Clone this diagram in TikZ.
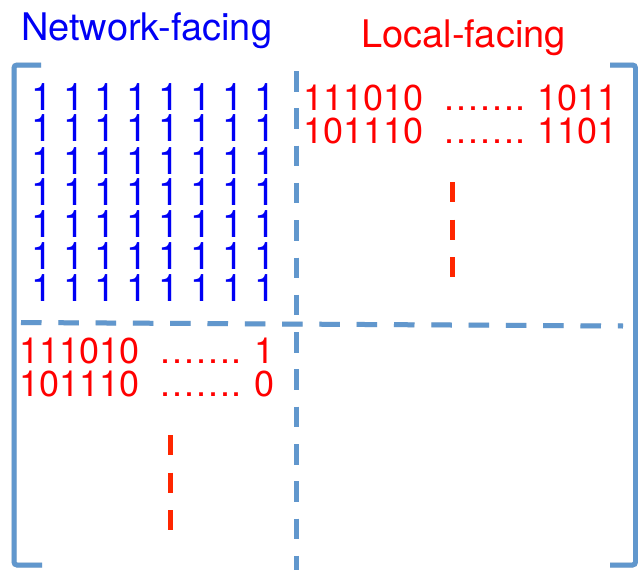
\documentclass[tikz,border=0pt]{standalone}
\usepackage{fontspec}
\setmainfont{TeX Gyre Heros}
\definecolor{rulecol}{RGB}{97,151,205}
\definecolor{netblue}{RGB}{0,0,245}
\definecolor{localred}{RGB}{255,0,0}
\definecolor{tickred}{RGB}{255,38,0}
% one row of eight ones, on a 31.9pt pitch
\newcommand{\onesrowbox}{\hbox{\makebox[31.9pt][l]{1}\makebox[31.9pt][l]{1}\makebox[31.9pt][l]{1}\makebox[31.9pt][l]{1}\makebox[31.9pt][l]{1}\makebox[31.9pt][l]{1}\makebox[31.9pt][l]{1}1}}
\tikzset{
  bracketline/.style={draw=rulecol, line width=5pt, rounded corners=3pt},
  splitline/.style={draw=rulecol, line width=5pt, dash pattern=on 20.5pt off 16.8pt},
  reddash/.style={draw=tickred, line width=5pt, dash pattern=on 20pt off 17.5pt},
  shade/.style={draw=black, opacity=0.13, line width=5pt},
  label/.style={inner sep=0pt, anchor=base west, font=\fontsize{38}{38}\selectfont},
  onesblock/.style={inner sep=0pt, anchor=base west, text=netblue, font=\fontsize{38}{32}\selectfont},
  bits/.style={inner sep=0pt, anchor=base west, text=localred, font=\fontsize{36}{36}\selectfont},
}
\begin{document}
\begin{tikzpicture}[x=1pt, y=-1pt]
\useasboundingbox (0,0) rectangle (638,570);

% corner points of the brackets and divider ends
\coordinate (lbt) at (41,65);   \coordinate (lbtc) at (14,65);
\coordinate (lbbc) at (14,565); \coordinate (lbb) at (42,565);
\coordinate (rbt) at (610,65);  \coordinate (rbtc) at (635.5,65);
\coordinate (rbbc) at (635.5,565); \coordinate (rbb) at (610,565);
\coordinate (vtop) at (296.5,71); \coordinate (vbot) at (296.5,572);
\coordinate (hleft) at (21,322.5); \coordinate (hright) at (623,326);
\coordinate (rtop) at (452.5,182); \coordinate (rbot) at (452.5,277);
\coordinate (ltop) at (170,435);   \coordinate (lbot) at (170,530);

% soft drop shadow under the blue rules
\begin{scope}[shift={(1,1.8)}]
  \draw[shade, rounded corners=3pt] (lbt) -- (lbtc) -- (lbbc) -- (lbb);
  \draw[shade, rounded corners=3pt] (rbt) -- (rbtc) -- (rbbc) -- (rbb);
  \draw[shade, dash pattern=on 20.5pt off 16.8pt] (vtop) -- (vbot);
  \draw[shade, dash pattern=on 20.5pt off 16.8pt] (hleft) -- (hright);
\end{scope}

% matrix brackets
\draw[bracketline] (lbt) -- (lbtc) -- (lbbc) -- (lbb);
\draw[bracketline] (rbt) -- (rbtc) -- (rbbc) -- (rbb);

% block dividers
\draw[splitline] (vtop) -- (vbot);
\draw[splitline] (hleft) -- (hright);

% column headings
\node[label, text=netblue] (nethead) at (21,40) {Network-facing};
\node[label, text=localred] (localhead) at (361,47) {Local-facing};

% all-ones network-facing block, seven rows on a 32pt pitch
\node[onesblock] (ones) at (31,110) {\vtop{\baselineskip=32pt \lineskiplimit=-1000pt \lineskip=0pt
  \onesrowbox\onesrowbox\onesrowbox\onesrowbox\onesrowbox\onesrowbox\onesrowbox}};

% local-facing rows, top right
\node[bits] (tr1a) at (303,110) {111010};
\node[bits] (tr1b) at (443,110) {…….};
\node[bits] (tr1c) at (537,110) {1011};
\node[bits] (tr2a) at (303,143) {101110};
\node[bits] (tr2b) at (443,143) {…….};
\node[bits] (tr2c) at (537,143) {1101};

% rows of the lower left block
\node[bits] (bl1a) at (19,363) {111010};
\node[bits] (bl1b) at (159,363) {…….};
\node[bits] (bl1c) at (254,363) {1};
\node[bits] (bl2a) at (19,396) {101110};
\node[bits] (bl2b) at (159,396) {…….};
\node[bits] (bl2c) at (254.5,396) {0};

% vertical continuation marks
\draw[reddash] (rtop) -- (rbot);
\draw[reddash] (ltop) -- (lbot);
\end{tikzpicture}
\end{document}
